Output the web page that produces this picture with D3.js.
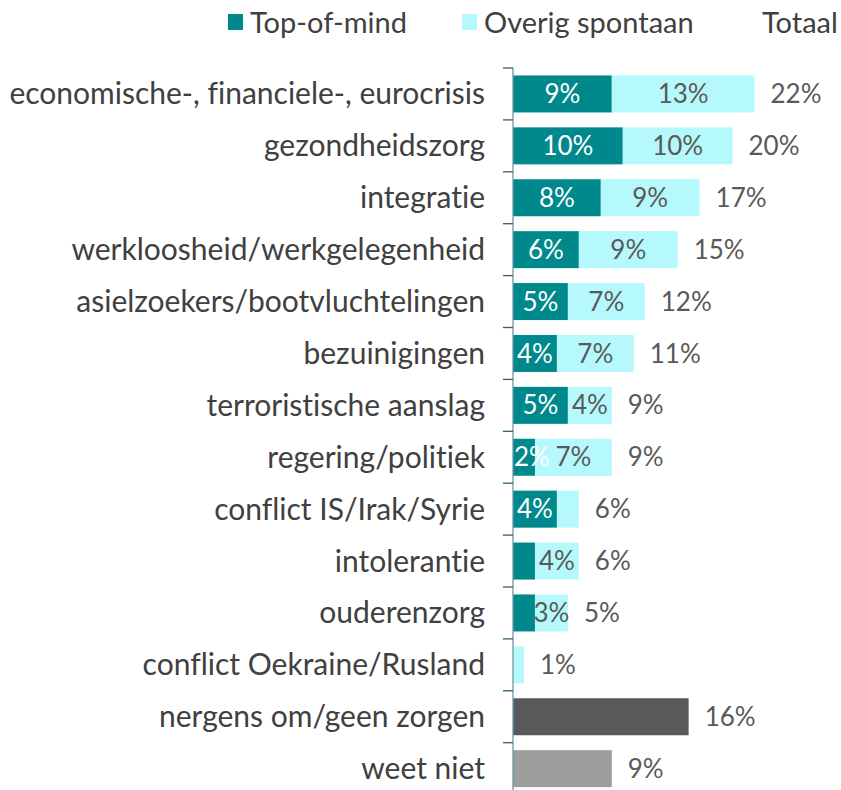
<!DOCTYPE html>
<html>
<head>
<meta charset="utf-8">
<script src="https://cdn.jsdelivr.net/npm/d3@7"></script>
<style>
    body { margin: 0; background: #fff; }
    svg { font-family: Lato, "Open Sans", sans-serif; font-variant-ligatures: none; }
</style>
</head>
<body>
<svg id="canvas"></svg>
<script>
    var w = 841
    var h = 790

    // ########## Data ##########
    var categories = [
        "economische-, financiele-, eurocrisis",
        "gezondheidszorg",
        "integratie",
        "werkloosheid/werkgelegenheid",
        "asielzoekers/bootvluchtelingen",
        "bezuinigingen",
        "terroristische aanslag",
        "regering/politiek",
        "conflict IS/Irak/Syrie",
        "intolerantie",
        "ouderenzorg",
        "conflict Oekraine/Rusland",
        "nergens om/geen zorgen",
        "weet niet"
    ];
    var topOfMind = [9, 10, 8, 6, 5, 4, 5, 2, 4, 2, 2, 0, null, null];
    var overig = [13, 10, 9, 9, 7, 7, 4, 7, 2, 4, 3, 1, null, null];
    var single = [null, null, null, null, null, null, null, null, null, null, null, null, 16, 9];
    var totals = [22, 20, 17, 15, 12, 11, 9, 9, 6, 6, 5, 1, 16, 9];
    var topLabels = ["9%", "10%", "8%", "6%", "5%", "4%", "5%", "2%", "4%", "", "", "", "", ""];
    var overigLabels = ["13%", "10%", "9%", "9%", "7%", "7%", "4%", "7%", "", "4%", "3%", "", "", ""];
    var legendLabels = ["Top-of-mind", "Overig spontaan", "Totaal"];

    var cTop = "#00898c";
    var cOverig = "#b6f9fc";
    var singleColors = ["#58595b", "#9d9d9e"];

    // ########## SVG ##########
    var svg = d3.select("#canvas")
        .attr("width", w)
        .attr("height", h);

    var x = d3.scaleLinear().domain([0, 22]).range([513, 754.5]);
    var y = d3.scaleBand().domain(categories)
        .range([68, 68 + 14 * 51.9])
        .paddingInner(0.287)
        .paddingOuter(0.1435);
    var step = y.step();

    var rows = categories.map(function (c, i) {
        return {
            cat: c, top: topOfMind[i], ov: overig[i], single: single[i],
            total: totals[i], topLabel: topLabels[i], ovLabel: overigLabels[i], i: i
        };
    });

    // ########## Bars ##########
    var stacked = rows.filter(function (d) { return d.top !== null; });
    var singles = rows.filter(function (d) { return d.single !== null; });

    svg.selectAll(".bar-top")
        .data(stacked).enter()
        .append("rect")
        .attr("class", "bar-top")
        .attr("x", x(0))
        .attr("y", function (d) { return y(d.cat); })
        .attr("width", function (d) { return x(d.top) - x(0); })
        .attr("height", y.bandwidth())
        .attr("fill", cTop);

    svg.selectAll(".bar-ov")
        .data(stacked).enter()
        .append("rect")
        .attr("class", "bar-ov")
        .attr("x", function (d) { return x(d.top); })
        .attr("y", function (d) { return y(d.cat); })
        .attr("width", function (d) { return x(d.top + d.ov) - x(d.top); })
        .attr("height", y.bandwidth())
        .attr("fill", cOverig);

    svg.selectAll(".bar-single")
        .data(singles).enter()
        .append("rect")
        .attr("class", "bar-single")
        .attr("x", x(0))
        .attr("y", function (d) { return y(d.cat); })
        .attr("width", function (d) { return x(d.single) - x(0); })
        .attr("height", y.bandwidth())
        .attr("fill", function (d, i) { return singleColors[i]; });

    // ########## Axis ##########
    var axisG = svg.append("g");
    axisG.append("line")
        .attr("x1", x(0)).attr("x2", x(0))
        .attr("y1", y.range()[0]).attr("y2", y.range()[1])
        .attr("stroke", "#6f97a6")
        .attr("stroke-width", 1.3);
    axisG.selectAll(".tick")
        .data(d3.range(categories.length + 1)).enter()
        .append("line")
        .attr("x1", x(0) - 10).attr("x2", x(0))
        .attr("y1", function (i) { return y.range()[0] + i * step; })
        .attr("y2", function (i) { return y.range()[0] + i * step; })
        .attr("stroke", "#2e5f73")
        .attr("stroke-width", 1.3);

    // ########## Labels ##########
    var fsCat = 30;
    var fsLbl = 26;
    var midY = function (d) { return y(d.cat) + y.bandwidth() / 2; };

    svg.selectAll(".cat")
        .data(rows).enter()
        .append("text")
        .attr("x", 485)
        .attr("y", midY)
        .attr("dy", "0.35em")
        .attr("text-anchor", "end")
        .attr("font-size", fsCat)
        .attr("fill", "#404040")
        .text(function (d) { return d.cat; });

    // keep the label inside the plot when the segment is narrower than the text
    svg.selectAll(".lbl-top")
        .data(stacked.filter(function (d) { return d.topLabel; })).enter()
        .append("text")
        .attr("y", midY)
        .attr("dy", "0.35em")
        .attr("text-anchor", "middle")
        .attr("font-size", fsLbl)
        .attr("fill", "#ffffff")
        .text(function (d) { return d.topLabel; })
        .attr("x", function (d) {
            var half = this.getComputedTextLength() / 2;
            return Math.max((x(0) + x(d.top)) / 2, x(0) + half + 1);
        });

    svg.selectAll(".lbl-ov")
        .data(stacked.filter(function (d) { return d.ovLabel; })).enter()
        .append("text")
        .attr("x", function (d) { return (x(d.top) + x(d.top + d.ov)) / 2; })
        .attr("y", midY)
        .attr("dy", "0.35em")
        .attr("text-anchor", "middle")
        .attr("font-size", fsLbl)
        .attr("fill", "#595959")
        .text(function (d) { return d.ovLabel; });

    svg.selectAll(".lbl-tot")
        .data(rows).enter()
        .append("text")
        .attr("x", function (d) { return x(d.total) + 16; })
        .attr("y", midY)
        .attr("dy", "0.35em")
        .attr("font-size", fsLbl)
        .attr("fill", "#595959")
        .text(function (d) { return d.total + "%"; });

    // ########## Legend ##########
    var legend = svg.append("g");
    var legendX = [228, 462, 762];
    var legendColors = [cTop, cOverig, null];
    legendLabels.forEach(function (l, i) {
        if (legendColors[i]) {
            legend.append("rect")
                .attr("x", legendX[i]).attr("y", 14)
                .attr("width", 15).attr("height", 16)
                .attr("fill", legendColors[i]);
        }
        legend.append("text")
            .attr("x", legendColors[i] ? legendX[i] + 22 : legendX[i])
            .attr("y", 23)
            .attr("dy", "0.35em")
            .attr("font-size", 29)
            .attr("fill", "#404040")
            .text(l);
    });
</script>
</body>
</html>
